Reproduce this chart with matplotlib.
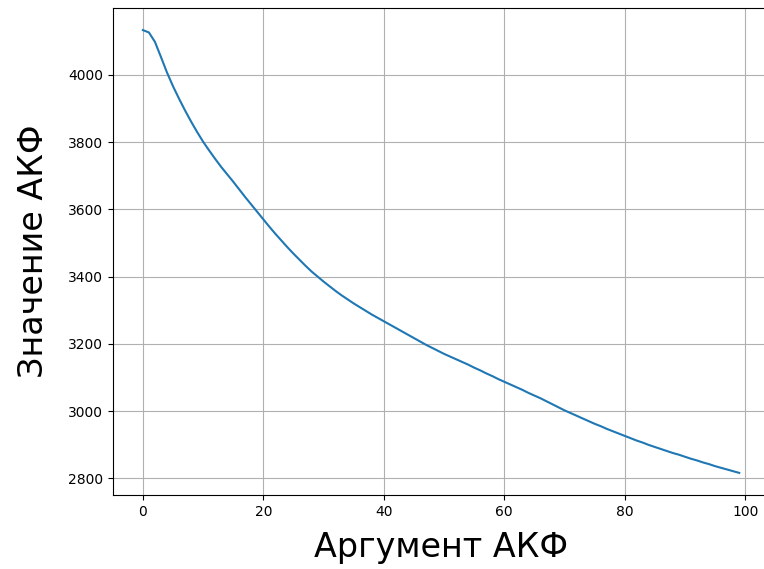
import numpy as np
import matplotlib
matplotlib.use("Agg")
import matplotlib.pyplot as plt

# ACF values, lags 0..99
lags = np.arange(100)
acf_values = [
    4133, 4126, 4098, 4053, 4007, 3966, 3929, 3894, 3861, 3830,
    3801, 3775, 3750, 3726, 3704, 3682, 3659, 3636, 3614, 3592,
    3570, 3548, 3527, 3507, 3487, 3468, 3450, 3432, 3415, 3400,
    3385, 3371, 3357, 3344, 3332, 3320, 3309, 3298, 3287, 3277,
    3267, 3257, 3247, 3237, 3227, 3217, 3207, 3197, 3188, 3179,
    3170, 3162, 3154, 3146, 3138, 3129, 3121, 3112, 3104, 3095,
    3087, 3079, 3071, 3063, 3054, 3046, 3038, 3029, 3020, 3011,
    3002, 2994, 2986, 2978, 2970, 2962, 2955, 2947, 2940, 2933,
    2926, 2919, 2912, 2906, 2899, 2893, 2887, 2881, 2875, 2870,
    2864, 2858, 2853, 2847, 2842, 2836, 2831, 2826, 2821, 2816,
]

fig = plt.figure(figsize=(7.64, 5.69), dpi=100)
ax = fig.add_axes([0.148, 0.130, 0.8586, 0.856])
ax.plot(lags, acf_values)
ax.set_xlabel("Аргумент АКФ", fontsize=24, labelpad=9)
ax.set_ylabel("Значение АКФ", fontsize=24, labelpad=13)
ax.grid(True)
# the reference is cropped just before the right spine
ax.spines["right"].set_visible(False)

fig.savefig("out.png", dpi=100)
